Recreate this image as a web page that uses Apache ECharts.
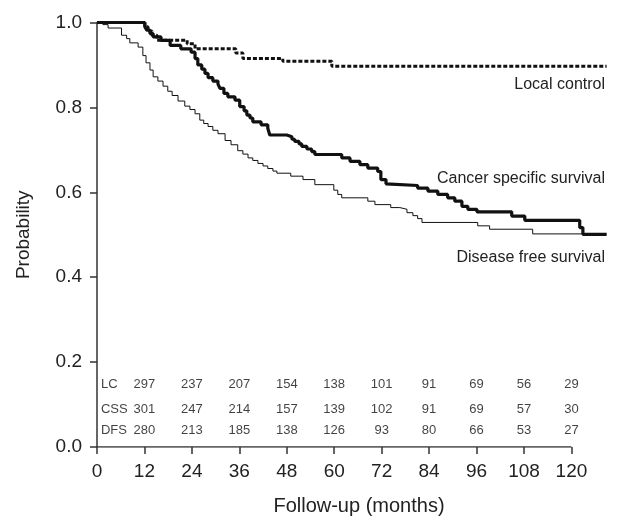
<!DOCTYPE html>
<html>
<head>
<meta charset="utf-8">
<script src="https://cdn.jsdelivr.net/npm/echarts@6/dist/echarts.min.js"></script>
<style>
html,body{margin:0;padding:0;background:#fff;}
#c{width:617px;height:521px;}
</style>
</head>
<body>
<div id="c"></div>
<script>
// ---- data (months, probability) ----
var dfsData = [[0,1.0],[1.5,0.995],[2.8,0.987],[6.2,0.970],[7.5,0.962],[8.3,0.952],[10.4,0.942],[11.6,0.922],[12.4,0.905],[13.4,0.888],[14.2,0.872],[15.4,0.862],[16.7,0.850],[17.9,0.838],[19.0,0.828],[20.5,0.815],[22.2,0.803],[23.5,0.795],[24.8,0.785],[26.0,0.770],[27.0,0.762],[28.1,0.755],[29.3,0.746],[30.6,0.738],[32.4,0.722],[33.9,0.712],[35.6,0.698],[36.9,0.690],[38.2,0.681],[39.4,0.675],[40.7,0.668],[42.0,0.662],[43.2,0.656],[44.5,0.650],[45.5,0.645],[49.0,0.638],[52.1,0.630],[55.1,0.618],[59.9,0.605],[60.9,0.595],[61.9,0.587],[68.5,0.579],[70.3,0.571],[74.3,0.564],[76.6,0.560],[78.4,0.552],[79.9,0.545],[81.1,0.538],[82.2,0.529],[96.3,0.521],[99.3,0.513],[110.2,0.502],[128.9,0.502]];
var cssData = [[0,1.0],[12.1,0.99],[12.6,0.982],[13.4,0.974],[14.2,0.966],[16.2,0.958],[18.5,0.946],[21.2,0.938],[23.8,0.930],[24.8,0.915],[25.5,0.900],[26.5,0.890],[27.3,0.880],[28.1,0.870],[29.3,0.862],[30.6,0.855],[31.1,0.845],[32.1,0.833],[33.1,0.825],[34.9,0.817],[36.1,0.802],[37.2,0.792],[37.9,0.782],[38.7,0.775],[39.4,0.766],[41.5,0.759],[43.2,0.751],[43.7,0.735],[48.0,0.731],[49.3,0.725],[50.0,0.720],[51.1,0.714],[51.8,0.708],[53.1,0.702],[54.3,0.696],[55.1,0.689],[61.9,0.681],[64.0,0.673],[66.5,0.665],[68.5,0.657],[71.0,0.649],[71.8,0.630],[73.1,0.620],[73.6,0.616],[81.1,0.610],[83.7,0.603],[86.2,0.595],[88.7,0.587],[90.5,0.579],[92.3,0.567],[93.8,0.560],[96.1,0.554],[104.9,0.544],[108.2,0.534],[122.1,0.517],[122.9,0.501],[128.9,0.501]];
var lcData = [[0,1.0],[12.1,0.99],[12.9,0.98],[13.9,0.97],[15.2,0.958],[22.8,0.950],[24.8,0.938],[35.1,0.928],[36.9,0.915],[47.0,0.909],[59.4,0.897],[128.9,0.897]];

var xTicks = [0,12,24,36,48,60,72,84,96,108,120];
var yTicks = [0,0.2,0.4,0.6,0.8,1.0];

// numbers at risk
var riskNames = ['LC','CSS','DFS'];
var riskMonths = [12,24,36,48,60,72,84,96,108,120];
var riskLC  = [297,237,207,154,138,101,91,69,56,29];
var riskCSS = [301,247,214,157,139,102,91,69,57,30];
var riskDFS = [280,213,185,138,126,93,80,66,53,27];
var riskRowY = [0.148,0.089,0.038];

var curveNames = ['Local control','Cancer specific survival','Disease free survival'];

var FONT = 'Liberation Sans, Arial, Helvetica, sans-serif';

var riskRows = [riskLC, riskCSS, riskDFS];
var riskPoints = [];
riskRows.forEach(function(row, r){
  riskPoints.push({value:[1.0, riskRowY[r]], label:{formatter: riskNames[r], align:'left'}});
  row.forEach(function(v, i){
    riskPoints.push({value:[riskMonths[i], riskRowY[r]], label:{formatter: String(v), align:'center'}});
  });
});

var chart = echarts.init(document.getElementById('c'), null, {renderer:'canvas'});
chart.setOption({
  backgroundColor:'#fff',
  animation:false,
  grid:{left:97, right:10, top:22.5, bottom:73},
  xAxis:{
    type:'value', min:0, max:129, interval:12,
    name:'Follow-up (months)', nameLocation:'middle', nameGap:49,
    nameTextStyle:{fontFamily:FONT, fontSize:20, color:'#222', padding:[0,0,0,14]},
    axisLine:{show:false},
    axisTick:{show:true, length:7, customValues:xTicks, lineStyle:{color:'#333', width:1.5}},
    axisLabel:{customValues:xTicks, margin:15, fontFamily:FONT, fontSize:19, color:'#222'},
    splitLine:{show:false}
  },
  yAxis:{
    type:'value', min:0, max:1, interval:0.2,
    name:'Probability', nameLocation:'middle', nameGap:64, nameRotate:90,
    nameTextStyle:{fontFamily:FONT, fontSize:19, color:'#222'},
    axisLine:{show:true, lineStyle:{color:'#333', width:1.5}},
    axisTick:{show:true, length:7, lineStyle:{color:'#333', width:1.5}},
    axisLabel:{margin:15, fontFamily:FONT, fontSize:19, color:'#222', formatter:function(v){return v.toFixed(1);}},
    splitLine:{show:false}
  },
  graphic:[
    {type:'text', right:12, top:77, style:{text:curveNames[0], font:'16px '+FONT, fill:'#222'}},
    {type:'text', right:12, top:171, style:{text:curveNames[1], font:'16px '+FONT, fill:'#222'}},
    {type:'text', right:12, top:250, style:{text:curveNames[2], font:'16px '+FONT, fill:'#222'}}
  ],
  series:[
    {type:'line', data:[[0,0],[120,0]], symbol:'none', silent:true, lineStyle:{color:'#333', width:1.5}, z:1},
    {name:'DFS', type:'line', step:'end', data:dfsData, symbol:'none', lineStyle:{color:'#111', width:1}, z:3},
    {name:'CSS', type:'line', step:'end', data:cssData, symbol:'none', lineStyle:{color:'#111', width:3.2}, z:4},
    {name:'LC', type:'line', step:'end', data:lcData, symbol:'none', lineStyle:{color:'#111', width:3, type:[4,2]}, z:5},
    {type:'scatter', data:riskPoints, symbolSize:0, silent:true,
     label:{show:true, position:'inside', fontFamily:FONT, fontSize:13, color:'#111', verticalAlign:'middle'}}
  ]
});
</script>
</body>
</html>
